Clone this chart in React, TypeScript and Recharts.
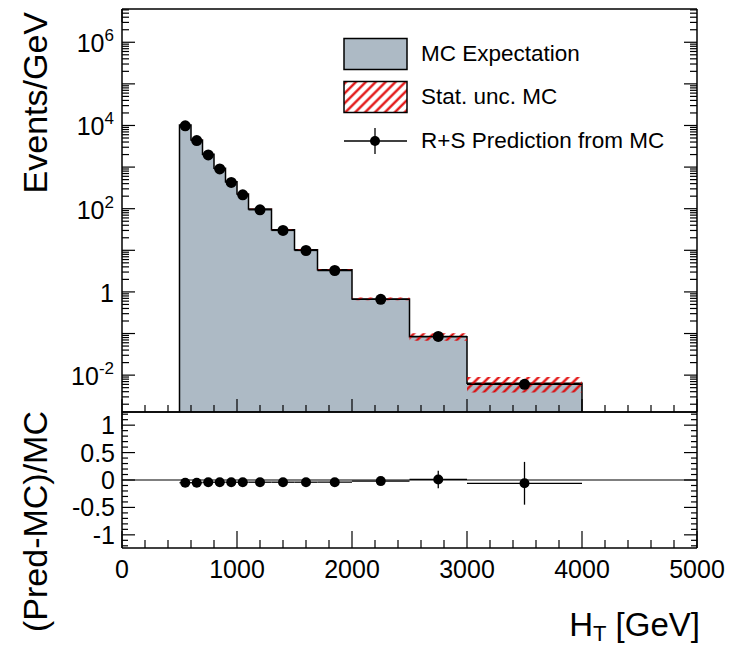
import React from 'react';
import { ComposedChart, Area, Scatter, ErrorBar, XAxis, YAxis, ReferenceLine, Legend } from 'recharts';

// HT binning (GeV)
const binEdges = [500, 600, 700, 800, 900, 1000, 1100, 1300, 1500, 1700, 2000, 2500, 3000, 4000];
const binCenters = [550, 650, 750, 850, 950, 1050, 1200, 1400, 1600, 1850, 2250, 2750, 3500];

// Events/GeV
const mcExpectation = [10200, 4500, 2040, 940, 445, 225, 98, 31, 10.3, 3.4, 0.68, 0.084, 0.0064];
const mcStatUnc = [90, 50, 25, 12, 6, 3.5, 1.6, 0.6, 0.25, 0.12, 0.05, 0.017, 0.0026];
const rsPrediction = [9800, 4330, 1960, 905, 428, 216, 94, 30, 9.9, 3.27, 0.665, 0.085, 0.006];

// (Pred-MC)/MC
const ratioValues = [-0.05, -0.05, -0.04, -0.04, -0.04, -0.04, -0.04, -0.04, -0.04, -0.04, -0.02, 0.01, -0.06];
const ratioErrors = [0.01, 0.01, 0.01, 0.01, 0.01, 0.015, 0.015, 0.02, 0.02, 0.03, 0.04, 0.16, 0.39];

const xTicks = [0, 200, 400, 600, 800, 1000, 1200, 1400, 1600, 1800, 2000, 2200, 2400, 2600, 2800, 3000,
  3200, 3400, 3600, 3800, 4000, 4200, 4400, 4600, 4800, 5000];
const ratioTicks = [-1.2, -1.1, -1, -0.9, -0.8, -0.7, -0.6, -0.5, -0.4, -0.3, -0.2, -0.1, 0,
  0.1, 0.2, 0.3, 0.4, 0.5, 0.6, 0.7, 0.8, 0.9, 1, 1.1, 1.2];
const logDecades = [-3, -2, -1, 0, 1, 2, 3, 4, 5, 6];
const logMantissas = [1, 2, 3, 4, 5, 6, 7, 8, 9];

const legendItems = ['MC Expectation', 'Stat. unc. MC', 'R+S Prediction from MC'];

const yMin = 1.3e-3;
const yMax = 6.3e6;
const logTicks = logDecades
  .flatMap((d) => logMantissas.map((m) => m * Math.pow(10, d)))
  .filter((v) => v >= yMin && v <= yMax);

const font = '"Liberation Sans", Arial, Helvetica, sans-serif';
const histFill = '#adbac5';
const frame = { stroke: '#000', strokeWidth: 1.5 };

// step outline: close down to the axis at both ends
const histData = [
  { x: binEdges[0], mc: yMin, band: null as null | number[] },
  ...mcExpectation.map((v, i) => ({ x: binEdges[i], mc: v, band: [v - mcStatUnc[i], v + mcStatUnc[i]] })),
  { x: binEdges[13], mc: mcExpectation[12], band: [mcExpectation[12] - mcStatUnc[12], mcExpectation[12] + mcStatUnc[12]] },
  { x: binEdges[13], mc: yMin, band: null },
];

const predData = binCenters.map((c, i) => ({
  x: c,
  y: rsPrediction[i],
  xerr: (binEdges[i + 1] - binEdges[i]) / 2,
}));

const ratioData = binCenters.map((c, i) => ({
  x: c,
  y: ratioValues[i],
  xerr: (binEdges[i + 1] - binEdges[i]) / 2,
  yerr: ratioErrors[i],
}));

function xTick(dir: number, majorLen: number, minorLen: number, labels: boolean) {
  return (props: any) => {
    const { x, y, payload } = props;
    const v = payload.value;
    const major = v % 1000 === 0;
    return (
      <g>
        <line x1={x} y1={y} x2={x} y2={y + dir * (major ? majorLen : minorLen)} stroke="#000" strokeWidth={1.2} />
        {labels && major && (
          <text x={x} y={y + 30} textAnchor="middle" fontSize={25} fontFamily={font} fill="#000">{v}</text>
        )}
      </g>
    );
  };
}

function logTick(dir: number, labels: boolean) {
  return (props: any) => {
    const { x, y, payload } = props;
    const v = payload.value;
    const exp = Math.round(Math.log10(v));
    const major = Math.abs(v / Math.pow(10, exp) - 1) < 1e-6;
    return (
      <g>
        <line x1={x} y1={y} x2={x + dir * (major ? 13 : 7)} y2={y} stroke="#000" strokeWidth={1.2} />
        {labels && major && exp % 2 === 0 && (
          <text x={x - 8} y={y + 10} textAnchor="end" fontSize={25} fontFamily={font} fill="#000">
            {exp === 0 ? '1' : (
              <>
                10<tspan dy={-11} fontSize={17}>{exp}</tspan>
              </>
            )}
          </text>
        )}
      </g>
    );
  };
}

function ratioTick(dir: number, labels: boolean) {
  return (props: any) => {
    const { x, y, payload } = props;
    const v = payload.value;
    const major = Math.abs(v * 2 - Math.round(v * 2)) < 1e-6;
    return (
      <g>
        <line x1={x} y1={y} x2={x + dir * (major ? 13 : 6)} y2={y} stroke="#000" strokeWidth={1.2} />
        {labels && major && (
          <text x={x - 7} y={y + 9} textAnchor="end" fontSize={25} fontFamily={font} fill="#000">{v}</text>
        )}
      </g>
    );
  };
}

const dot = (r: number) => (props: any) => <circle cx={props.cx} cy={props.cy} r={r} fill="#000" />;

function renderLegend() {
  return (
    <div style={{ fontFamily: font, fontSize: 22.5, color: '#000' }}>
      {legendItems.map((label, i) => (
        <div key={label} style={{ display: 'flex', alignItems: 'center', height: 43.5 }}>
          <svg width={66} height={34}>
            <defs>
              <pattern id="legHatch" patternUnits="userSpaceOnUse" width={7} height={7} patternTransform="rotate(45)">
                <line x1={3.5} y1={0} x2={3.5} y2={7} stroke="#e00000" strokeWidth={2.2} />
              </pattern>
            </defs>
            {i === 0 && <rect x={1} y={1.5} width={63} height={31} fill={histFill} stroke="#000" strokeWidth={1.5} />}
            {i === 1 && <rect x={1} y={1.5} width={63} height={31} fill="url(#legHatch)" stroke="#000" strokeWidth={1.5} />}
            {i === 2 && (
              <g>
                <line x1={1} y1={17} x2={64} y2={17} stroke="#000" strokeWidth={1.3} />
                <line x1={32} y1={4} x2={32} y2={30} stroke="#000" strokeWidth={1.3} />
                <circle cx={32} cy={17} r={5} fill="#000" />
              </g>
            )}
          </svg>
          <span style={{ marginLeft: 12, lineHeight: 1 }}>{label}</span>
        </div>
      ))}
    </div>
  );
}

export default function App() {
  return (
    <div style={{ position: 'absolute', left: 0, top: 0, width: 729, height: 646, background: '#fff' }}>
      <div style={{ position: 'absolute', left: 0, top: 0 }}>
        <ComposedChart width={729} height={420} data={histData} margin={{ top: 8, right: 31, bottom: 7, left: 121 }}>
          <defs>
            <pattern id="mcHatch" patternUnits="userSpaceOnUse" width={7} height={7} patternTransform="rotate(45)">
              <line x1={3.5} y1={0} x2={3.5} y2={7} stroke="#e00000" strokeWidth={2.2} />
            </pattern>
          </defs>
          <XAxis dataKey="x" type="number" domain={[0, 5000]} allowDataOverflow ticks={xTicks} interval={0}
            height={1} tickSize={0} tickMargin={0} tickLine={false}
            axisLine={frame} tick={xTick(-1, 13, 7, false)} />
          <XAxis xAxisId="top" orientation="top" type="number" domain={[0, 5000]} allowDataOverflow ticks={xTicks}
            interval={0} height={1} tickSize={0} tickMargin={0} tickLine={false}
            axisLine={frame} tick={xTick(1, 13, 7, false)} />
          <YAxis scale="log" type="number" domain={[yMin, yMax]} allowDataOverflow ticks={logTicks} interval={0}
            width={1} tickSize={0} tickMargin={0} tickLine={false}
            axisLine={frame} tick={logTick(1, true)}
            label={(p: any) => (
              <text x={47} y={12} transform="rotate(-90 47 12)" textAnchor="end" fontSize={34} fontFamily={font} fill="#000">
                Events/GeV
              </text>
            )} />
          <YAxis yAxisId="right" orientation="right" scale="log" type="number" domain={[yMin, yMax]} allowDataOverflow
            ticks={logTicks} interval={0} width={1} tickSize={0} tickMargin={0} tickLine={false}
            axisLine={frame} tick={logTick(-1, false)} />
          <Area dataKey="mc" type="stepAfter" baseValue="dataMin" fill={histFill} fillOpacity={1}
            stroke="#000" strokeWidth={1.5} dot={false} activeDot={false} isAnimationActive={false} />
          <Area dataKey="band" type="stepAfter" fill="url(#mcHatch)" fillOpacity={1} stroke="none"
            dot={false} activeDot={false} isAnimationActive={false} />
          <Scatter data={predData} dataKey="y" shape={dot(5.5)} isAnimationActive={false}>
            <ErrorBar dataKey="xerr" direction="x" width={0} stroke="#000" strokeWidth={1.3} />
          </Scatter>
          <Legend layout="vertical" align="center" verticalAlign="middle" content={renderLegend}
            wrapperStyle={{ left: 343, top: 32, width: 360 }} />
        </ComposedChart>
      </div>
      <div style={{ position: 'absolute', left: 0, top: 404 }}>
        <ComposedChart width={729} height={242} data={ratioData} margin={{ top: 7, right: 31, bottom: 97, left: 121 }}>
          <XAxis dataKey="x" type="number" domain={[0, 5000]} allowDataOverflow ticks={xTicks} interval={0}
            height={1} tickSize={0} tickMargin={0} tickLine={false}
            axisLine={frame} tick={xTick(-1, 17, 8, true)}
            label={(p: any) => (
              <text x={700} y={232} textAnchor="end" fontSize={33} fontFamily={font} fill="#000">
                H<tspan dy={5} fontSize={22}>T</tspan><tspan dy={-5}> [GeV]</tspan>
              </text>
            )} />
          <XAxis xAxisId="top" orientation="top" type="number" domain={[0, 5000]} allowDataOverflow ticks={xTicks}
            interval={0} height={1} tickSize={0} tickMargin={0} tickLine={false}
            axisLine={frame} tick={xTick(1, 17, 8, false)} />
          <YAxis type="number" domain={[-1.24, 1.24]} allowDataOverflow ticks={ratioTicks} interval={0}
            width={1} tickSize={0} tickMargin={0} tickLine={false}
            axisLine={frame} tick={ratioTick(1, true)}
            label={(p: any) => (
              <text x={47} y={7} transform="rotate(-90 47 7)" textAnchor="end" fontSize={34} fontFamily={font} fill="#000">
                (Pred-MC)/MC
              </text>
            )} />
          <YAxis yAxisId="right" orientation="right" type="number" domain={[-1.24, 1.24]} allowDataOverflow
            ticks={ratioTicks} interval={0} width={1} tickSize={0} tickMargin={0} tickLine={false}
            axisLine={frame} tick={ratioTick(-1, false)} />
          <ReferenceLine y={0} stroke="#000" strokeWidth={1.2} />
          <Scatter dataKey="y" shape={dot(5)} isAnimationActive={false}>
            <ErrorBar dataKey="xerr" direction="x" width={0} stroke="#000" strokeWidth={1.3} />
            <ErrorBar dataKey="yerr" direction="y" width={0} stroke="#000" strokeWidth={1.3} />
          </Scatter>
        </ComposedChart>
      </div>
    </div>
  );
}
